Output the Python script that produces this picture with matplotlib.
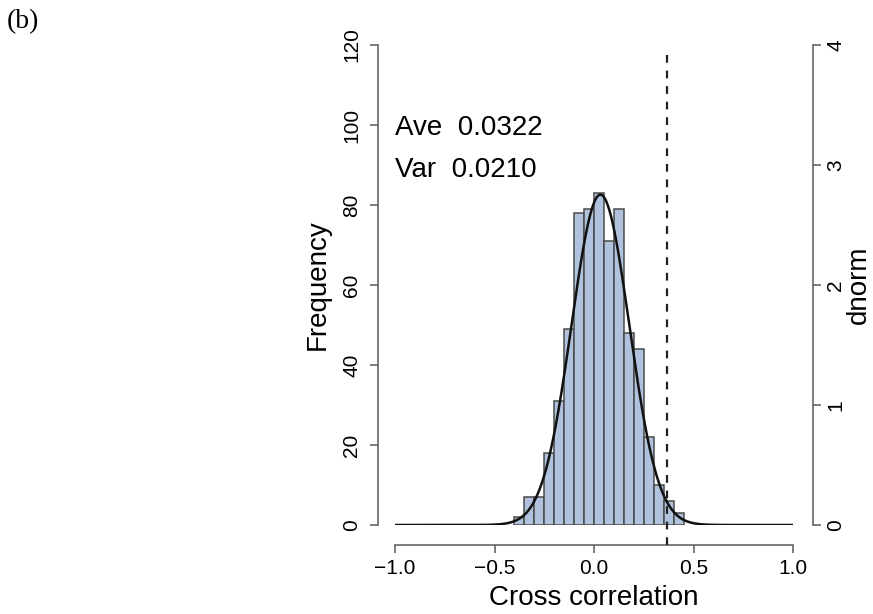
import numpy as np
import matplotlib
matplotlib.use("Agg")
import matplotlib.pyplot as plt

# ---- data ----
bin_edges_left = [-0.40, -0.35, -0.30, -0.25, -0.20, -0.15, -0.10, -0.05,
                  0.00, 0.05, 0.10, 0.15, 0.20, 0.25, 0.30, 0.35, 0.40]
counts = [2, 7, 7, 18, 31, 49, 78, 79, 83, 71, 79, 48, 44, 22, 10, 6, 3]
bin_width = 0.05
ave = 0.0322
var = 0.0210
threshold = 0.366
x_ticks = [-1.0, -0.5, 0.0, 0.5, 1.0]
x_tick_labels = ["\u22121.0", "\u22120.5", "0.0", "0.5", "1.0"]
left_ticks = [0, 20, 40, 60, 80, 100, 120]
right_ticks = [0, 1, 2, 3, 4]

W, H = 873, 614
dpi = 100
fig = plt.figure(figsize=(W / dpi, H / dpi), dpi=dpi)
plt.rcParams['font.family'] = ['Liberation Sans', 'DejaVu Sans']

px = 72.0 / dpi  # points per pixel

x0, x1 = 395, 793
y0, y1 = 525, 45
ax = fig.add_axes([x0 / W, 1 - y0 / H, (x1 - x0) / W, (y0 - y1) / H])
ax.set_xlim(-1, 1)
ax.set_ylim(0, 120)
ax.patch.set_alpha(0)

ax.bar(bin_edges_left, counts, width=bin_width, align='edge',
       facecolor='#b0c2de', edgecolor='#4a4a4a', linewidth=1.1, zorder=2)

for s in ['top', 'right']:
    ax.spines[s].set_visible(False)
spine_col = '#5a5a5a'
ax.spines['bottom'].set_position(('outward', 20 * px))
ax.spines['bottom'].set_bounds(-1, 1)
ax.spines['left'].set_position(('outward', 17 * px))
ax.spines['left'].set_bounds(0, 120)
for s in ['bottom', 'left']:
    ax.spines[s].set_color(spine_col)
    ax.spines[s].set_linewidth(1.1)

ax.set_xticks(x_ticks)
ax.set_xticklabels(x_tick_labels)
ax.set_yticks(left_ticks)
ax.set_yticklabels([str(v) for v in left_ticks], rotation=90, va='center')
ax.tick_params(axis='x', length=8 * px, width=1.1, color=spine_col,
               labelsize=15, pad=6 * px, direction='out')
ax.tick_params(axis='y', length=8 * px, width=1.1, color=spine_col,
               labelsize=15, pad=9 * px, direction='out')

# dashed threshold line
ax.plot([threshold, threshold], [-5, 119.3], color='#222222', lw=1.6,
        ls=(0, (3.5, 3.5)), clip_on=False, zorder=4)

# text
ax.text(-1.0, (525 - 135) / 4.0, "Ave  %.4f" % ave, fontsize=20,
        ha='left', va='baseline')
ax.text(-1.0, (525 - 177) / 4.0, "Var  %.4f" % var, fontsize=20,
        ha='left', va='baseline')

# twin axis with normal density
ax2 = ax.twinx()
ax2.set_ylim(0, 4)
ax2.set_xlim(-1, 1)
xs = np.linspace(-1, 1, 801)
sd = np.sqrt(var)
dens = np.exp(-0.5 * ((xs - ave) / sd) ** 2) / (sd * np.sqrt(2 * np.pi))
ax2.plot(xs, dens, color='#111111', lw=1.8, zorder=5)
for s in ['top', 'left', 'bottom']:
    ax2.spines[s].set_visible(False)
ax2.spines['right'].set_position(('outward', 20 * px))
ax2.spines['right'].set_bounds(0, 4)
ax2.spines['right'].set_color(spine_col)
ax2.spines['right'].set_linewidth(1.1)
ax2.set_yticks(right_ticks)
ax2.set_yticklabels([str(v) for v in right_ticks], rotation=90, va='center')
ax2.tick_params(axis='y', length=8 * px, width=1.1, color=spine_col,
                labelsize=15, pad=5 * px, direction='out')

# axis labels (positioned in figure pixels)
fig.text(318 / W, 1 - 285 / H, "Frequency", rotation=90, fontsize=20,
         ha='center', va='center')
fig.text(859 / W, 1 - 285 / H, "dnorm", rotation=90, fontsize=20,
         ha='center', va='center')
fig.text(594 / W, 1 - 598 / H, "Cross correlation", fontsize=20,
         ha='center', va='center')

fig.text(7 / W, 1 - 22 / H, "(b)", fontsize=20, family=['Liberation Serif'],
         ha='left', va='center')

fig.savefig("out.png", dpi=dpi)
